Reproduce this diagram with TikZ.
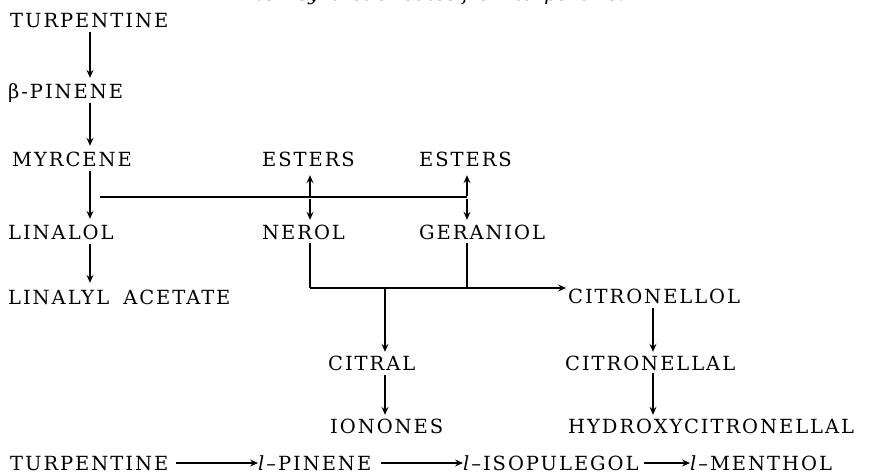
\documentclass[tikz,border=0pt]{standalone}
\usepackage{fontspec}
\setmainfont{DejaVu Serif}
\newfontfamily\lblfont{DejaVu Serif}[LetterSpace=10]
\usetikzlibrary{arrows.meta,calc}
\begin{document}
\begin{tikzpicture}[x=1pt,y=-1pt,
  lbl/.style={anchor=base west,inner sep=0pt,text height=14pt,text depth=0pt,
    font=\fontsize{19.5}{22}\lblfont},
  ttl/.style={anchor=base,inner sep=0pt,font=\fontsize{19.3}{22}\selectfont\itshape},
  ln/.style={line width=1.1pt},
  arr/.style={ln,-{Stealth[length=8pt,width=7pt,inset=3pt]}},
  varr/.style={arr,shorten <=4pt,shorten >=7pt}]
\useasboundingbox (0,0) rectangle (875,473);
\fill[white] (0,0) rectangle (875,473);
% title (cut off at the top)
\node[ttl] (title) at (436,1) {New synthetic routes from turpentine.};
% labels
\node[lbl] (turpA)  at (10,28)   {TURPENTINE};
\node[lbl] (bpin)   at (8,99)    {β-PINENE};
\node[lbl] (myr)    at (12,167)  {MYRCENE};
\node[lbl] (estL)   at (262,167) {ESTERS};
\node[lbl] (estR)   at (419,167) {ESTERS};
\node[lbl] (lin)    at (8,240)   {LINALOL};
\node[lbl] (nerol)  at (262,240) {NEROL};
\node[lbl] (ger)    at (419,240) {GERANIOL};
\node[lbl] (linac)  at (8,304)   {LINALYL\hspace{6pt} ACETATE};
\node[lbl] (citlol) at (568,303) {CITRONELLOL};
\node[lbl] (citral) at (328,370) {CITRAL};
\node[lbl] (citlal) at (565,370) {CITRONELLAL};
\node[lbl] (ion)    at (330,433) {IONONES};
\node[lbl] (hyd)    at (568,433) {HYDROXYCITRONELLAL};
\node[lbl] (turpB)  at (10,470)  {TURPENTINE};
\node[lbl] (lpin)   at (258,470) {\textit{l}–PINENE};
\node[lbl] (liso)   at (463,470) {\textit{l}–ISOPULEGOL};
\node[lbl] (lmen)   at (690,470) {\textit{l}–MENTHOL};
% helper coordinates
\coordinate (xa) at (90,0);
\coordinate (xd) at (385,0);
\coordinate (xe) at (653,0);
\coordinate (jl) at (100,197);
\coordinate (jn) at (310,197);
\coordinate (jr) at (467,197);
\coordinate (kb) at (310,288);
\coordinate (kc) at (467,288);
\coordinate (kd) at (385,288);
% left column
\draw[varr] (turpA.south -| xa) -- (bpin.north -| xa);
\draw[varr] (bpin.south -| xa) -- (myr.north -| xa);
\draw[varr] (myr.south -| xa) -- (lin.north -| xa);
\draw[varr] (lin.south -| xa) -- (linac.north -| xa);
% branch to nerol / geraniol / esters
\draw[ln] (jl) -- (jr);
\draw[arr,shorten <=1pt,shorten >=8pt] (jn) -- (estL.south -| jn);
\draw[arr,shorten <=2pt,shorten >=6pt] (jn) -- (nerol.north -| jn);
\draw[arr,shorten <=1pt,shorten >=8pt] (jr) -- (estR.south -| jr);
\draw[arr,shorten <=2pt,shorten >=6pt] (jr) -- (ger.north -| jr);
% nerol / geraniol to citronellol and citral
\draw[ln,shorten <=3pt] (nerol.south -| jn) -- (kb);
\draw[ln,shorten <=3pt] (ger.south -| jr) -- (kc);
\draw[arr,shorten >=2pt] (kb) -- (kb -| citlol.west);
\draw[arr,shorten >=4pt] (kd) -- (citral.north -| kd);
\draw[arr,shorten <=5pt,shorten >=4pt] (citral.south -| xd) -- (ion.north -| xd);
\draw[arr,shorten <=5pt,shorten >=4pt] (citlol.south -| xe) -- (citlal.north -| xe);
\draw[arr,shorten <=3pt,shorten >=4pt] (citlal.south -| xe) -- (hyd.north -| xe);
% bottom row
\draw[arr,shorten <=8pt] (turpB.east) -- (lpin.west);
\draw[arr,shorten <=10pt] (lpin.east) -- (liso.west);
\draw[arr,shorten <=5pt] (liso.east) -- (lmen.west);
\end{tikzpicture}
\end{document}
